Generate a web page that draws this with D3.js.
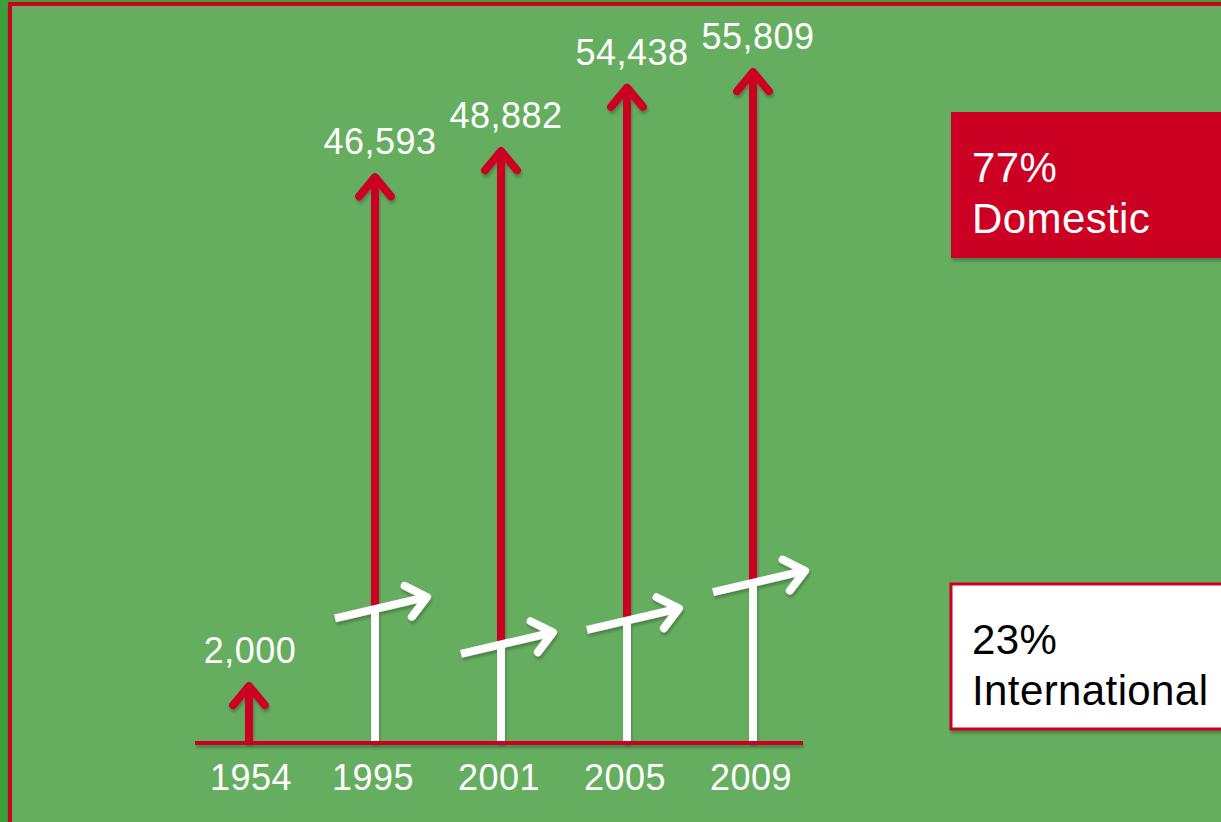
<!DOCTYPE html>
<html>
<head>
<meta charset="utf-8">
<script src="https://cdn.jsdelivr.net/npm/d3@7"></script>
<style>
  html, body { margin: 0; padding: 0; background: #3aa03a; overflow: hidden; }
  svg { display: block; font-family: "Liberation Sans", Arial, sans-serif; }
</style>
</head>
<body>
<div id="chart"></div>
<script>
// data
var years = ["1954", "1995", "2001", "2005", "2009"];
var totals = [2000, 46593, 48882, 54438, 55809];
var totalLabels = ["2,000", "46,593", "48,882", "54,438", "55,809"];
// international part (white), estimated, none shown for 1954
var intl = [null, 8400, 5300, 7400, 10700];
var shareLabels = [["77%", "Domestic"], ["23%", "International"]];

var W = 1221, H = 822;
var red = "#cc0620", green = "#66ae5f";

var svg = d3.select("#chart").append("svg")
    .attr("width", W)
    .attr("height", H);

// drop shadow used by most shapes
var defs = svg.append("defs");
var f = defs.append("filter").attr("id", "shadow")
    .attr("filterUnits", "userSpaceOnUse")
    .attr("x", 0).attr("y", 0).attr("width", W).attr("height", H);
f.append("feDropShadow")
    .attr("dx", 1).attr("dy", 3).attr("stdDeviation", 1.5)
    .attr("flood-color", "#000").attr("flood-opacity", 0.25);

// background + red frame
svg.append("rect")
    .attr("x", 0).attr("y", 0).attr("width", W).attr("height", H)
    .style("fill", "#3aa03a");
svg.append("rect")
    .attr("x", 10).attr("y", 4).attr("width", W + 20).attr("height", H + 20)
    .style("fill", green)
    .style("stroke", red)
    .style("stroke-width", 4)
    .attr("filter", "url(#shadow)");

// scales
var x = d3.scalePoint().domain(years).range([249, 753]);
// small 1954 value is drawn larger, so the scale has a break at 2,000
var y = d3.scaleLinear().domain([0, 2000, 55809]).range([743, 682, 68]);

var baseY = y(0);

var g = svg.append("g");

// arrow head chevron
function head(px, py, ang, size) {
    // ang: direction the arrow points (radians)
    var a1 = ang + Math.PI * 0.78, a2 = ang - Math.PI * 0.78;
    return "M" + (px + size * Math.cos(a1)) + "," + (py + size * Math.sin(a1)) +
        "L" + px + "," + py +
        "L" + (px + size * Math.cos(a2)) + "," + (py + size * Math.sin(a2));
}

years.forEach(function(yr, i) {
    var cx = x(yr);
    var top = y(totals[i]);
    var lay = g.append("g").attr("filter", "url(#shadow)");

    // red shaft (domestic) from baseline to arrow tip
    lay.append("line")
        .attr("x1", cx).attr("x2", cx)
        .attr("y1", baseY).attr("y2", top + 4)
        .style("stroke", red)
        .style("stroke-width", 8);
    lay.append("path")
        .attr("d", head(cx, top + 4, -Math.PI / 2, 25))
        .style("fill", "none")
        .style("stroke", red)
        .style("stroke-width", 8)
        .style("stroke-linecap", "round")
        .style("stroke-linejoin", "round");

    // white part (international) and its rising arrow
    if (intl[i] != null) {
        var wy = y(intl[i]);
        lay.append("line")
            .attr("x1", cx).attr("x2", cx)
            .attr("y1", baseY).attr("y2", wy)
            .style("stroke", "#fff")
            .style("stroke-width", 8);
        var x0 = cx - 40, y0 = wy + 9.5;
        var x1 = cx + 52, y1 = wy - 12;
        var ang = Math.atan2(y1 - y0, x1 - x0);
        lay.append("line")
            .attr("x1", x0).attr("y1", y0)
            .attr("x2", x1 - 3).attr("y2", y1 + 0.7)
            .style("stroke", "#fff")
            .style("stroke-width", 8);
        lay.append("path")
            .attr("d", head(x1, y1, ang, 25))
            .style("fill", "none")
            .style("stroke", "#fff")
            .style("stroke-width", 8)
            .style("stroke-linecap", "round")
            .style("stroke-linejoin", "round");
    }

    // value label above the tip
    g.append("text")
        .attr("x", cx + (i == 0 ? 1 : 5))
        .attr("y", top - 19)
        .attr("text-anchor", "middle")
        .style("font-size", "36px")
        .style("letter-spacing", "0.5px")
        .style("fill", "#fff")
        .text(totalLabels[i]);

    // year label
    g.append("text")
        .attr("x", cx + (i == 0 ? 2 : -2))
        .attr("y", 790)
        .attr("text-anchor", "middle")
        .style("font-size", "36px")
        .style("letter-spacing", "0.5px")
        .style("fill", "#fff")
        .text(yr);
});

// baseline, drawn over the shafts
svg.append("line")
    .attr("x1", 195).attr("x2", 803)
    .attr("y1", baseY).attr("y2", baseY)
    .style("stroke", red)
    .style("stroke-width", 4)
    .attr("filter", "url(#shadow)");

// share boxes on the right
var boxes = [
    { y: 112, h: 146, fill: red, stroke: "none", color: "#fff", lines: shareLabels[0] },
    { y: 584, h: 145, fill: "#fff", stroke: red, color: "#000", lines: shareLabels[1] }
];
boxes.forEach(function(b) {
    svg.append("rect")
        .attr("x", 951).attr("y", b.y)
        .attr("width", 300).attr("height", b.h)
        .style("fill", b.fill)
        .style("stroke", b.stroke)
        .style("stroke-width", 3)
        .attr("filter", "url(#shadow)");
    b.lines.forEach(function(t, k) {
        svg.append("text")
            .attr("x", 972)
            .attr("y", b.y + 70 + k * 51)
            .style("font-size", "42px")
            .style("letter-spacing", "0.4px")
            .style("fill", b.color)
            .text(t);
    });
});
</script>
</body>
</html>
